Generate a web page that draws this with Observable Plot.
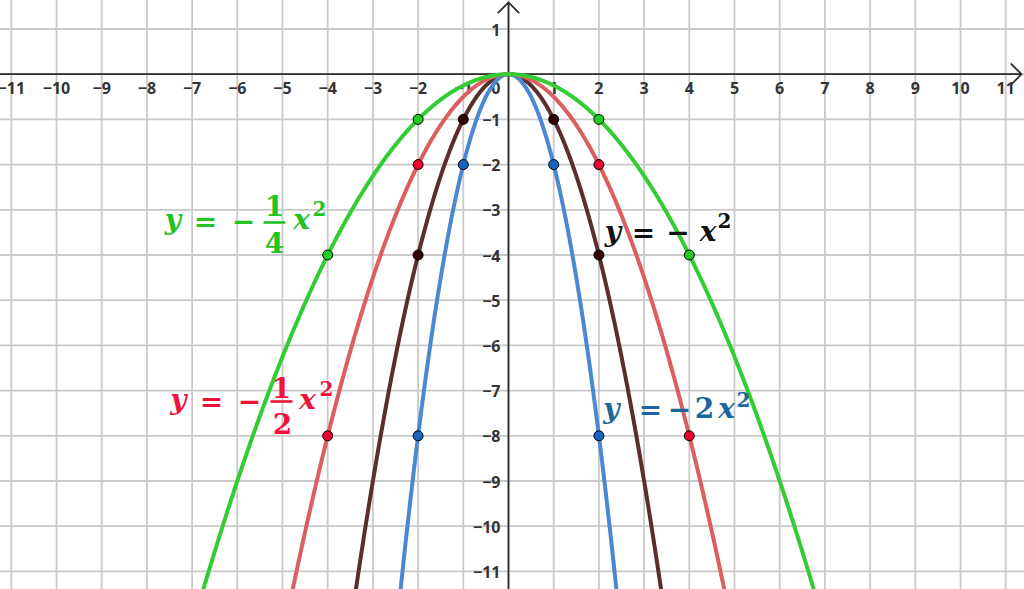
<!DOCTYPE html>
<html>
<head>
<meta charset="utf-8">
<script src="https://cdn.jsdelivr.net/npm/d3@7"></script>
<script src="https://cdn.jsdelivr.net/npm/@observablehq/plot@0.6"></script>
<style>
  html, body { margin: 0; padding: 0; background: #fff; }
  #chart svg { display: block; }
</style>
</head>
<body>
<div id="chart"></div>
<script>
// ---- data ----
const seriesNames = ["y = −x²", "y = −2x²", "y = −½x²", "y = −¼x²"];
const coefficients = [-1, -2, -0.5, -0.25];
const lineColors = ["#5b2d2d", "#4a88d4", "#dd5e5e", "#33cc33"];
const pointColors = ["#330000", "#1565c0", "#ee0033", "#22cc22"];
const labelColors = ["#111111", "#1a68a0", "#f0143c", "#22c322"];

// marked points on each parabola
const darkPointsX = [-2, -1, 1, 2];
const darkPointsY = [-4, -1, -1, -4];
const bluePointsX = [-2, -1, 1, 2];
const bluePointsY = [-8, -2, -2, -8];
const redPointsX = [-4, -2, 2, 4];
const redPointsY = [-8, -2, -2, -8];
const greenPointsX = [-4, -2, 2, 4];
const greenPointsY = [-4, -1, -1, -4];

const xTicks = [-11, -10, -9, -8, -7, -6, -5, -4, -3, -2, -1, 1, 2, 3, 4, 5, 6, 7, 8, 9, 10, 11];
const yTicks = [1, -1, -2, -3, -4, -5, -6, -7, -8, -9, -10, -11];
const xGrid = d3.range(-11, 12);
const yGrid = d3.range(-11, 2);

// ---- build tables ----
const pointSets = [
  [darkPointsX, darkPointsY],
  [bluePointsX, bluePointsY],
  [redPointsX, redPointsY],
  [greenPointsX, greenPointsY]
];
const points = [];
pointSets.forEach(([xs, ys], i) => xs.forEach((x, j) => points.push({x, y: ys[j], s: i})));

const xsample = d3.range(-11.4, 11.6, 0.01);
const curves = coefficients.map((a, i) => xsample.map(x => ({x, y: a * x * x, s: i})));

const fmt = v => (v < 0 ? "−" + Math.abs(v) : String(v));

// ---- formula labels (glyph layout in pixels relative to start/baseline) ----
const W = 45.2; // pixels per unit (used only to place label anchors)
const labelAnchors = [
  {s: 0, x: (602 - 508) / W, y: (73.7 - 240) / W},
  {s: 1, x: (600 - 508) / W, y: (73.7 - 417) / W},
  {s: 2, x: (168 - 508) / W, y: (73.7 - 408) / W},
  {s: 3, x: (162 - 508) / W, y: (73.7 - 228) / W}
];
const MAIN = 28, SUP = 20;
const glyphLayouts = [
  [ // y = −x²
    {t: "y", dx: 10.5, dy: 0, it: true},
    {t: "=", dx: 41, dy: 1},
    {t: "−", dx: 75.5, dy: 1},
    {t: "x", dx: 105.5, dy: 0, it: true},
    {t: "2", dx: 122, dy: -13, sup: true}
  ],
  [ // y = −2x²
    {t: "y", dx: 11, dy: 0, it: true},
    {t: "=", dx: 50, dy: 1},
    {t: "−", dx: 79, dy: 1},
    {t: "2", dx: 104, dy: 0},
    {t: "x", dx: 126, dy: 0, it: true},
    {t: "2", dx: 143, dy: -11, sup: true}
  ],
  [ // y = −½x²
    {t: "y", dx: 10, dy: 0, it: true},
    {t: "=", dx: 43, dy: 2},
    {t: "−", dx: 81, dy: 2},
    {t: "1", dx: 113, dy: -11},
    {t: "2", dx: 114, dy: 25},
    {t: "x", dx: 139, dy: 0, it: true},
    {t: "2", dx: 158, dy: -13, sup: true},
    {bar: true, dx: 113, dy: -7}
  ],
  [ // y = −¼x²
    {t: "y", dx: 10.5, dy: 0, it: true},
    {t: "=", dx: 43, dy: 2},
    {t: "−", dx: 81, dy: 2},
    {t: "1", dx: 112, dy: -13},
    {t: "4", dx: 112, dy: 24},
    {t: "x", dx: 139, dy: 0, it: true},
    {t: "2", dx: 157, dy: -13, sup: true},
    {bar: true, dx: 112, dy: -6}
  ]
];

const labelMarks = [];
labelAnchors.forEach(a => {
  glyphLayouts[a.s].forEach(g => {
    if (g.bar) {
      labelMarks.push(Plot.link([a], {
        x1: d => d.x + (g.dx - 11) / W, x2: d => d.x + (g.dx + 11) / W,
        y1: d => d.y - g.dy / W, y2: d => d.y - g.dy / W,
        stroke: labelColors[a.s], strokeWidth: 2.6
      }));
    } else {
      labelMarks.push(Plot.text([a], {
        x: "x", y: "y", text: () => g.t,
        dx: g.dx, dy: g.dy,
        textAnchor: "middle", lineAnchor: "bottom",
        fontFamily: "DejaVu Serif",
        fontWeight: "bold",
        fontStyle: g.it ? "italic" : "normal",
        fontSize: g.sup ? SUP : MAIN,
        fill: labelColors[a.s]
      }));
    }
  });
});

const tickFont = {fontFamily: "Open Sans", fontWeight: 700, fontSize: 16, fill: "#333"};

const chart = Plot.plot({
  width: 1024,
  height: 589,
  margin: 0,
  x: {domain: [-508 / W, 516 / W], axis: null},
  y: {domain: [-(589 - 73.7) / W, 73.7 / W], axis: null},
  style: {background: "#fff"},
  marks: [
    Plot.ruleX(xGrid, {stroke: "#cacaca", strokeWidth: 1.8}),
    Plot.ruleY(yGrid, {stroke: "#cacaca", strokeWidth: 1.8}),
    Plot.arrow([0], {x1: -11.4, x2: 11.35, y1: 0, y2: 0, stroke: "#2d2d2d", strokeWidth: 1.8, headLength: 12, headAngle: 90, insetEnd: 0}),
    Plot.arrow([0], {x1: 0, x2: 0, y1: -11.6, y2: 1.59, stroke: "#2d2d2d", strokeWidth: 1.8, headLength: 12, headAngle: 90, insetEnd: 0}),
    Plot.text(xTicks, {x: d => d, y: 0, text: fmt, dy: 14.5, textAnchor: "middle", lineAnchor: "middle", ...tickFont}),
    Plot.text(yTicks, {x: 0, y: d => d, text: fmt, dx: -8, dy: 1.5, textAnchor: "end", lineAnchor: "middle", ...tickFont}),
    Plot.text([0], {x: 0, y: 0, text: () => "0", dx: -8, dy: 14.5, textAnchor: "end", lineAnchor: "middle", ...tickFont}),
    ...curves.map((c, i) => Plot.line(c, {x: "x", y: "y", stroke: lineColors[i], strokeWidth: 4, clip: true})),
    ...labelMarks,
    Plot.dot(points, {x: "x", y: "y", r: 5, fill: d => pointColors[d.s], stroke: "#000", strokeWidth: 1})
  ]
});
document.getElementById("chart").appendChild(chart);
</script>
</body>
</html>
